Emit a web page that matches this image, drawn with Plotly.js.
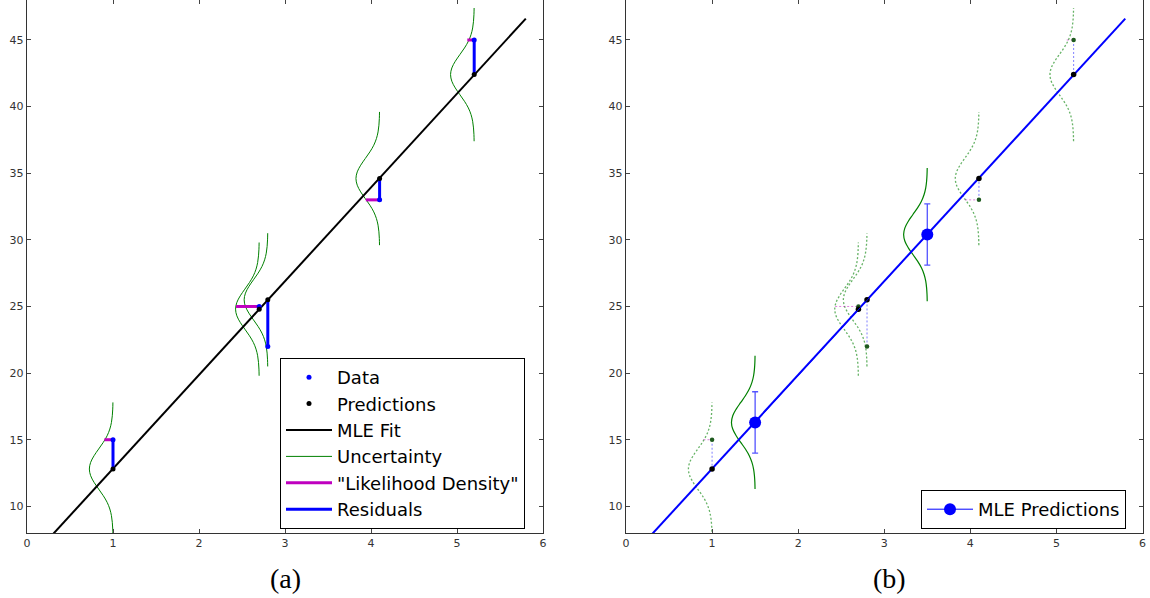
<!DOCTYPE html>
<html><head><meta charset="utf-8">
<script src="https://cdn.plot.ly/plotly-3.0.1.min.js"></script>
<style>html,body{margin:0;padding:0;background:#fff}</style>
</head><body><div id="chart" style="width:1150px;height:598px"></div>
<script>
const obsX = [1, 2.7, 2.8, 4.1, 5.2];
const obsY = [15, 25, 22, 33, 45];
const predY = [12.8, 24.8, 25.5, 34.6, 42.4];
const likeLen = [0.10, 0.27, 0.02, 0.16, 0.08];
const fitX = [0.3, 5.8];
const fitY = [7.9, 46.6];
const newX = [1.5, 3.5];
const newY = [16.3, 30.4];
const newErr = [2.3, 2.3];
// shape of the uncertainty curve (vertical offset from centre, horizontal width)
const gaussDy  = [-5, -4.5, -4, -3.5, -3, -2.5, -2, -1.5, -1, -0.5, 0, 0.5, 1, 1.5, 2, 2.5, 3, 3.5, 4, 4.5, 5];
const gaussOff = [0.001, 0.003, 0.008, 0.018, 0.037, 0.068, 0.113, 0.167, 0.220, 0.260, 0.275, 0.260, 0.220, 0.167, 0.113, 0.068, 0.037, 0.018, 0.008, 0.003, 0.001];
const xTicks = [0, 1, 2, 3, 4, 5, 6];
const yTicks = [10, 15, 20, 25, 30, 35, 40, 45];
const panelLabels = ['(a)', '(b)'];

function curves(xs, ys) {
  const X = [], Y = [];
  xs.forEach((xc, i) => {
    gaussDy.forEach((d, j) => { X.push(xc - gaussOff[j]); Y.push(ys[i] + d); });
    X.push(null); Y.push(null);
  });
  return {X, Y};
}
function vSegs(xs, y0, y1) {
  const X = [], Y = [];
  xs.forEach((x, i) => { X.push(x, x, null); Y.push(y0[i], y1[i], null); });
  return {X, Y};
}
function hSegs(xs, ys, len) {
  const X = [], Y = [];
  xs.forEach((x, i) => { X.push(x - len[i], x, null); Y.push(ys[i], ys[i], null); });
  return {X, Y};
}

const cv = curves(obsX, predY);
const cvNew = curves(newX, newY);
const res = vSegs(obsX, obsY, predY);
const lik = hSegs(obsX, obsY, likeLen);

const traces = [
  // ----- panel (a)
  {x: cv.X, y: cv.Y, mode: 'lines', line: {color: '#008000', width: 1, shape: 'spline'}, name: 'Uncertainty', legendrank: 4, xaxis: 'x', yaxis: 'y'},
  {x: fitX, y: fitY, mode: 'lines', line: {color: '#000000', width: 2}, name: 'MLE Fit', legendrank: 3, xaxis: 'x', yaxis: 'y'},
  {x: lik.X, y: lik.Y, mode: 'lines', line: {color: '#bf00bf', width: 3}, name: '"Likelihood Density"', legendrank: 5, xaxis: 'x', yaxis: 'y'},
  {x: res.X, y: res.Y, mode: 'lines', line: {color: '#0000ff', width: 3}, name: 'Residuals', legendrank: 6, xaxis: 'x', yaxis: 'y'},
  {x: obsX, y: obsY, mode: 'markers', marker: {color: '#0000ff', size: 5}, name: 'Data', legendrank: 1, xaxis: 'x', yaxis: 'y'},
  {x: obsX, y: predY, mode: 'markers', marker: {color: '#000000', size: 5}, name: 'Predictions', legendrank: 2, xaxis: 'x', yaxis: 'y'},
  // ----- panel (b)
  {x: cv.X, y: cv.Y, mode: 'lines', line: {color: 'rgba(0,128,0,0.6)', width: 1.3, dash: '2px,2px', shape: 'spline'}, showlegend: false, xaxis: 'x2', yaxis: 'y2'},
  {x: lik.X, y: lik.Y, mode: 'lines', line: {color: 'rgba(191,0,191,0.5)', width: 1, dash: '2px,2px'}, showlegend: false, xaxis: 'x2', yaxis: 'y2'},
  {x: res.X, y: res.Y, mode: 'lines', line: {color: 'rgba(0,0,255,0.5)', width: 1, dash: '2px,2px'}, showlegend: false, xaxis: 'x2', yaxis: 'y2'},
  {x: cvNew.X, y: cvNew.Y, mode: 'lines', line: {color: '#008000', width: 1.2, shape: 'spline'}, showlegend: false, xaxis: 'x2', yaxis: 'y2'},
  {x: fitX, y: fitY, mode: 'lines', line: {color: '#0000ff', width: 2}, showlegend: false, xaxis: 'x2', yaxis: 'y2'},
  {x: obsX, y: obsY, mode: 'markers', marker: {color: '#1e5a1e', size: 4.5}, showlegend: false, xaxis: 'x2', yaxis: 'y2'},
  {x: obsX, y: predY, mode: 'markers', marker: {color: '#000000', size: 5.5}, showlegend: false, xaxis: 'x2', yaxis: 'y2'},
  {x: newX, y: newY, mode: 'lines+markers', line: {color: '#0000ff', width: 1}, marker: {color: '#0000ff', size: 12},
   error_y: {type: 'data', array: newErr, visible: true, color: 'rgba(40,40,255,0.8)', thickness: 1.3, width: 3},
   name: 'MLE Predictions', legend: 'legend2', xaxis: 'x2', yaxis: 'y2'}
];

const axisCommon = {
  ticks: 'inside', ticklen: 4, tickwidth: 1, tickcolor: '#444',
  showline: true, linecolor: '#333', linewidth: 1.2, mirror: 'ticks',
  showgrid: false, zeroline: false, fixedrange: true,
  tickfont: {family: 'DejaVu Sans, sans-serif', size: 11, color: '#333'}
};
const xa = Object.assign({}, axisCommon, {range: [0, 6], tickvals: xTicks, ticktext: xTicks.map(String)});
const ya = Object.assign({}, axisCommon, {range: [8, 48], tickvals: yTicks, ticktext: yTicks.map(String)});

const legendCommon = {
  bgcolor: '#ffffff', bordercolor: '#000000', borderwidth: 1,
  font: {family: 'DejaVu Sans, sans-serif', size: 18, color: '#000'},
  xanchor: 'left', yanchor: 'top', itemwidth: 46
};

const layout = {
  width: 1150, height: 598,
  margin: {l: 0, r: 0, t: 0, b: 65},
  paper_bgcolor: '#ffffff', plot_bgcolor: '#ffffff',
  showlegend: true,
  xaxis: Object.assign({}, xa, {domain: [27/1150, 543/1150], anchor: 'y'}),
  yaxis: Object.assign({}, ya, {domain: [0, 1], anchor: 'x'}),
  xaxis2: Object.assign({}, xa, {domain: [626/1150, 1142.5/1150], anchor: 'y2'}),
  yaxis2: Object.assign({}, ya, {domain: [0, 1], anchor: 'x2'}),
  legend: Object.assign({}, legendCommon, {x: 280/1150, y: 1 - 358/533}),
  legend2: Object.assign({}, legendCommon, {x: 921/1150, y: 1 - 490/533}),
  annotations: [
    {text: panelLabels[0], xref: 'paper', yref: 'paper', x: 285/1150, y: (533 - 578)/533, xanchor: 'center', yanchor: 'middle', showarrow: false,
     font: {family: 'Liberation Serif, serif', size: 28, color: '#000'}},
    {text: panelLabels[1], xref: 'paper', yref: 'paper', x: 889/1150, y: (533 - 578)/533, xanchor: 'center', yanchor: 'middle', showarrow: false,
     font: {family: 'Liberation Serif, serif', size: 28, color: '#000'}}
  ]
};

Plotly.newPlot('chart', traces, layout, {staticPlot: true, displayModeBar: false});
</script>
</body></html>
